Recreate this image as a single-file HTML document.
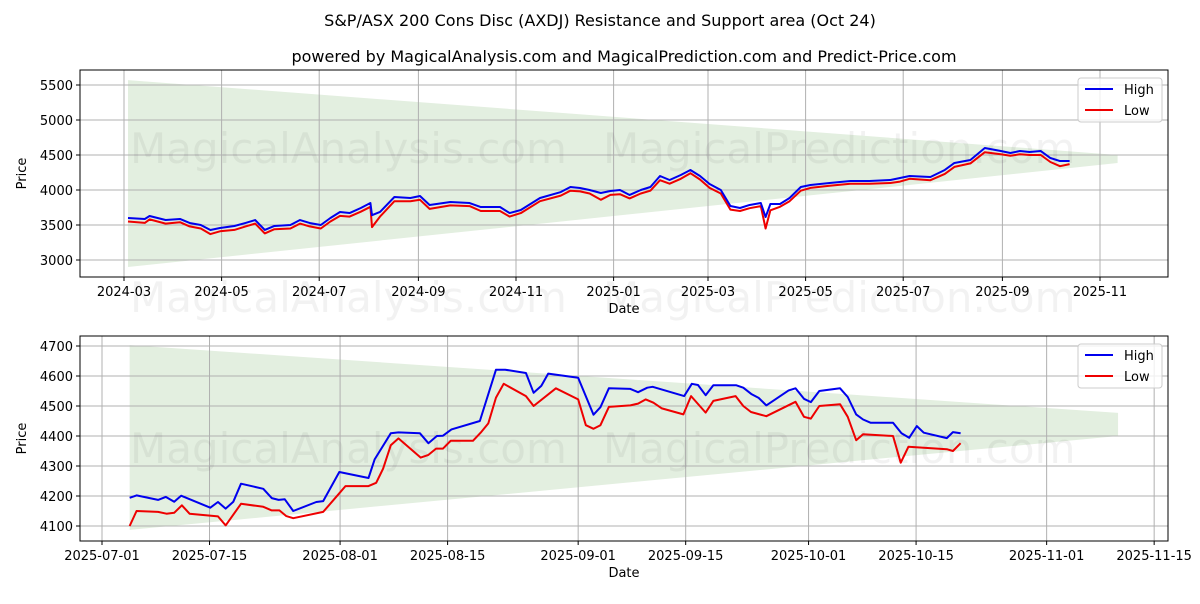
<!DOCTYPE html>
<html><head><meta charset="utf-8"><style>
body{margin:0;background:#fff;font-family:"DejaVu Sans","Liberation Sans",sans-serif}
svg text{font-family:"DejaVu Sans","Liberation Sans",sans-serif}
</style></head><body>
<svg id="c" width="1200" height="600" xmlns="http://www.w3.org/2000/svg">
<text x="600" y="26" text-anchor="middle" font-size="16">S&amp;P/ASX 200 Cons Disc (AXDJ) Resistance and Support area (Oct 24)</text>
<text x="624" y="62" text-anchor="middle" font-size="16">powered by MagicalAnalysis.com and MagicalPrediction.com and Predict-Price.com</text>
</svg>
<script>
// top chart: days since 2024-03-01
const topDays=[2.5,13,16,26,35,41,48,54,60,69,76,82,88,94,104,110,116,123,129,135,141,148,154,155,160,169,179,185,191,204,216,223,235,241,248,260,273,279,285,291,298,304,310,316,323,329,335,341,348,354,360,366,373,379,385,391,398,401,404,410,416,423,429,441,454,466,479,485,491,504,513,519,529,538,548,554,560,566,573,579,585,591];
const topHigh=[3600,3586,3629,3571,3586,3529,3500,3429,3457,3486,3529,3571,3429,3486,3500,3571,3529,3500,3600,3686,3671,3743,3814,3640,3686,3900,3886,3914,3786,3829,3814,3757,3757,3671,3714,3886,3971,4043,4029,4000,3957,3986,4000,3929,4000,4043,4200,4143,4214,4286,4200,4086,4000,3771,3743,3786,3814,3614,3800,3800,3886,4043,4071,4100,4129,4129,4143,4171,4200,4186,4286,4386,4429,4600,4557,4529,4557,4543,4557,4457,4414,4414];
const topLow=[3550,3530,3580,3520,3540,3480,3450,3370,3410,3430,3480,3520,3380,3440,3450,3520,3480,3450,3550,3630,3620,3690,3760,3470,3620,3840,3840,3860,3730,3780,3770,3700,3700,3620,3670,3840,3920,3990,3980,3950,3860,3930,3940,3880,3950,3990,4140,4090,4160,4240,4150,4030,3950,3720,3700,3740,3770,3450,3710,3760,3840,3990,4030,4060,4090,4090,4100,4120,4160,4140,4230,4330,4380,4540,4510,4490,4510,4500,4500,4400,4340,4370];
const topXTicks=[0,61,122,184,245,306,365,426,487,549,610];
const topXLabels=["2024-03","2024-05","2024-07","2024-09","2024-11","2025-01","2025-03","2025-05","2025-07","2025-09","2025-11"];
const topYTicks=[3000,3500,4000,4500,5000,5500];
const topBand=[[2.5,5570,2900],[621,4500,4385]];
// bottom chart: days since 2025-07-01
const botHighDays=[3.6,4.5,7.3,8.3,9.4,10.3,14.1,15.1,16.1,17.1,18.1,21,22.1,23,23.8,24.9,27.9,28.8,30.9,34.7,35.5,37.6,38.6,41.4,42.5,43.6,44.4,45.5,49.2,51.3,52.5,55.2,56.2,57.2,58.1,62,64,64.9,66,68.8,69.8,71,71.7,75.8,76.8,77.6,78.6,79.6,82.6,83.5,84.6,85.5,86.5,89.4,90.3,91.4,92.3,93.4,96.1,97.1,98.2,99.1,100.1,103,104.1,105.1,106.1,107,110,110.8,111.8];
const botHigh=[4194,4202,4187,4197,4181,4201,4161,4180,4158,4181,4241,4224,4193,4187,4189,4150,4180,4183,4280,4260,4322,4409,4412,4409,4376,4400,4401,4422,4450,4621,4621,4610,4544,4567,4608,4594,4471,4496,4559,4557,4546,4561,4564,4533,4574,4570,4536,4569,4569,4561,4539,4527,4502,4552,4559,4524,4513,4550,4559,4530,4472,4455,4444,4444,4409,4394,4433,4411,4393,4413,4409];
const botLowDays=[3.6,4.5,7.3,8.4,9.4,10.4,11.4,15.1,16.1,18.1,21,22.1,23.1,24,24.9,28.8,30.8,31.7,34.7,35.7,36.6,37.6,38.6,41.5,42.5,43.5,44.4,45.4,48.3,49.3,50.3,51.3,52.3,55.2,56.2,59.1,62,63,64,64.9,66,68.8,69.8,70.8,71.8,72.9,75.7,76.7,78.6,79.6,82.5,83.5,84.5,86.5,90.3,91.4,92.3,93.4,96.1,97.1,98.2,99.1,103,104,105,110,110.8,111.8];
const botLow=[4100,4150,4147,4141,4144,4169,4141,4132,4102,4174,4164,4152,4152,4133,4126,4147,4206,4233,4233,4244,4291,4369,4392,4328,4337,4358,4358,4384,4384,4411,4442,4528,4574,4533,4500,4559,4522,4436,4424,4436,4497,4502,4508,4522,4511,4492,4472,4533,4478,4517,4533,4500,4480,4466,4514,4464,4458,4500,4506,4464,4386,4406,4400,4311,4364,4356,4350,4376];
const botXTicks=[0,14,31,45,62,76,92,106,123,137];
const botXLabels=["2025-07-01","2025-07-15","2025-08-01","2025-08-15","2025-09-01","2025-09-15","2025-10-01","2025-10-15","2025-11-01","2025-11-15"];
const botYTicks=[4100,4200,4300,4400,4500,4600,4700];
const botBand=[[3.6,4703,4087],[132.3,4477,4400]];

const NS="http://www.w3.org/2000/svg";
const svg=document.getElementById('c');
function mk(tag,attrs,parent){const e=document.createElementNS(NS,tag);for(const k in attrs)e.setAttribute(k,attrs[k]);(parent||svg).appendChild(e);return e;}

function drawChart(o){
  const g=mk('g',{});
  
  
  const X=d=>o.x0+(d-o.d0)*o.kx, Y=v=>o.y0-(v-o.v0)*o.ky;
  const b=o.band;
  const band=mk('polygon',{points:`${X(b[0][0])},${Y(b[0][1])} ${X(b[1][0])},${Y(b[1][1])} ${X(b[1][0])},${Y(b[1][2])} ${X(b[0][0])},${Y(b[0][2])}`,fill:'#e3efe0'},g);
  
  
  o.xt.forEach((d,i)=>{
    const l=mk('line',{x1:X(d),x2:X(d),y1:o.top,y2:o.bot,stroke:'#b0b0b0','stroke-width':1},g);
    
    
    mk('line',{x1:X(d),x2:X(d),y1:o.bot,y2:o.bot+4,stroke:'#000'},g);
    const t=mk('text',{x:X(d),y:o.bot+19,'text-anchor':'middle','font-size':13},g);t.textContent=o.xl[i];
    
    
  });
  o.yt.forEach(v=>{
    const l=mk('line',{x1:o.left,x2:o.right,y1:Y(v),y2:Y(v),stroke:'#b0b0b0','stroke-width':1},g);
    
    
    mk('line',{x1:o.left-4,x2:o.left,y1:Y(v),y2:Y(v),stroke:'#000'},g);
    const t=mk('text',{x:o.left-7,y:Y(v)+5,'text-anchor':'end','font-size':13},g);t.textContent=v;
    
    
  });
  o.wm.forEach(w=>{const t=mk('text',{x:w[0],y:w[1],'font-size':42,fill:'#000','fill-opacity':0.05},g);t.textContent=w[2];
    
    });
  const ptsH=o.hd.map((d,i)=>X(d)+','+Y(o.h[i])).join(' ');
  const ptsL=o.ld.map((d,i)=>X(d)+','+Y(o.l[i])).join(' ');
  const ll=mk('polyline',{points:ptsL,fill:'none',stroke:'#ee0000','stroke-width':2,'stroke-linejoin':'round'},g);
  
  
  const lh=mk('polyline',{points:ptsH,fill:'none',stroke:'#0000ee','stroke-width':2,'stroke-linejoin':'round'},g);
  
  
  mk('rect',{x:o.left,y:o.top,width:o.right-o.left,height:o.bot-o.top,fill:'none',stroke:'#000','stroke-width':1},g);
  const xt=mk('text',{x:(o.left+o.right)/2,y:o.bot+36,'text-anchor':'middle','font-size':13},g);xt.textContent='Date';
  
  
  const cy=(o.top+o.bot)/2;
  const yt=mk('text',{x:26,y:cy,'text-anchor':'middle','font-size':13,transform:`rotate(-90 26 ${cy})`},g);yt.textContent='Price';
  
  
  const lg=mk('g',{},g);
  
  
  const ly=o.top+8;
  mk('rect',{x:1078,y:ly,width:84,height:44,rx:3,fill:'#fff','fill-opacity':0.8,stroke:'#ccc'},lg);
  mk('line',{x1:1085,x2:1113,y1:ly+11,y2:ly+11,stroke:'#0000ee','stroke-width':2},lg);
  mk('line',{x1:1085,x2:1113,y1:ly+32,y2:ly+32,stroke:'#ee0000','stroke-width':2},lg);
  const t1=mk('text',{x:1124,y:ly+16,'font-size':13},lg);t1.textContent='High';
  
  
  const t2=mk('text',{x:1124,y:ly+37,'font-size':13},lg);t2.textContent='Low';
  
  
}
drawChart({name:'top-chart',left:80,right:1168,top:70,bot:277,x0:124,d0:0,kx:1.6,y0:260,v0:3000,ky:0.07,
  band:topBand,xt:topXTicks,xl:topXLabels,yt:topYTicks,hd:topDays,h:topHigh,ld:topDays,l:topLow,
  wm:[[130,163,'MagicalAnalysis.com'],[603,163,'MagicalPrediction.com'],[130,312,'MagicalAnalysis.com'],[603,312,'MagicalPrediction.com']]});
drawChart({name:'bottom-chart',left:80,right:1168,top:336,bot:541,x0:102,d0:0,kx:7.68,y0:526,v0:4100,ky:0.3,
  band:botBand,xt:botXTicks,xl:botXLabels,yt:botYTicks,hd:botHighDays,h:botHigh,ld:botLowDays,l:botLow,
  wm:[[130,463,'MagicalAnalysis.com'],[603,463,'MagicalPrediction.com']]});
</script>
</body></html>
